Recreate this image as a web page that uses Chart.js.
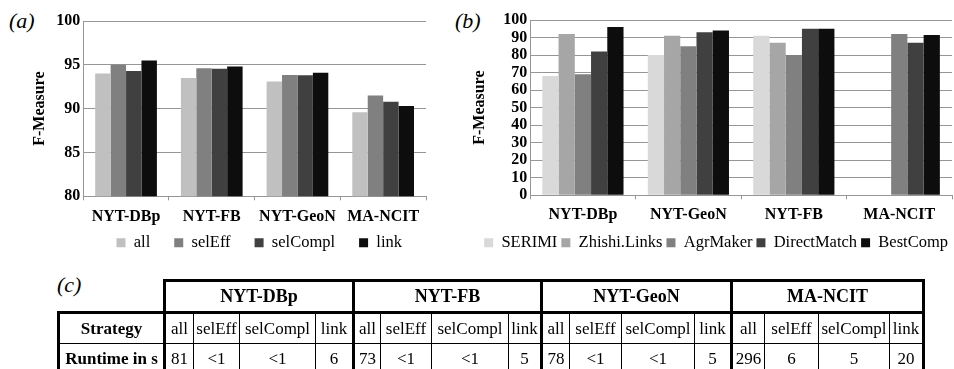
<!DOCTYPE html>
<html>
<head>
<meta charset="utf-8">
<script src="https://cdn.jsdelivr.net/npm/chart.js@4.4.1/dist/chart.umd.min.js"></script>
<style>
  body { margin: 0; width: 954px; height: 369px; overflow: hidden; background: #fff; position: relative; font-family: "Liberation Serif"; }
  .panel { position: absolute; font-family: "Liberation Serif"; font-style: italic; font-size: 22px; line-height: 22px; }
  #chartA { position: absolute; left: 0; top: 0; }
  #chartB { position: absolute; left: 450px; top: 0; }
  #runtimes { position: absolute; left: 57px; top: 279px; border-collapse: collapse; table-layout: fixed; font-family: "Liberation Serif"; font-size: 17px; }
  #runtimes td { border: 1px solid #000; text-align: center; height: 29px; padding: 0; white-space: nowrap; }
  #runtimes td.head { font-weight: bold; font-size: 18px; border: 3px solid #000; }
  #runtimes td.blank { border: none; }
  #runtimes td.lab { font-weight: bold; border-left: 3px solid #000; }
  #runtimes td.first { border-left: 3px solid #000; }
  #runtimes td.last { border-right: 3px solid #000; }
  #runtimes tr.strat td { border-top: 3px solid #000; }
</style>
</head>
<body>
<div class="panel" style="left:9px; top:10px;">(a)</div>
<div class="panel" style="left:455px; top:10px;">(b)</div>
<div class="panel" style="left:57px; top:274px;">(c)</div>
<canvas id="chartA" width="520" height="284"></canvas>
<canvas id="chartB" width="534" height="265"></canvas>
<table id="runtimes"></table>
<script>
// (a) F-Measure per strategy
const tasksA = ['NYT-DBp', 'NYT-FB', 'NYT-GeoN', 'MA-NCIT'];
const strategies = ['all', 'selEff', 'selCompl', 'link'];
const fAll = [94.0, 93.5, 93.1, 89.6];
const fSelEff = [95.0, 94.6, 93.85, 91.5];
const fSelCompl = [94.3, 94.55, 93.8, 90.8];
const fLink = [95.5, 94.8, 94.1, 90.3];

// (b) comparison with other tools
const tasksB = ['NYT-DBp', 'NYT-GeoN', 'NYT-FB', 'MA-NCIT'];
const tools = ['SERIMI', 'Zhishi.Links', 'AgrMaker', 'DirectMatch', 'BestComp'];
const serimi = [68, 80, 91, null];
const zhishi = [92, 91, 87, null];
const agrMaker = [69, 85, 80, 92];
const directMatch = [82, 93, 95, 87];
const bestComp = [96, 94, 95, 91.5];

// (c) runtimes in s, table order
const tableTasks = ['NYT-DBp', 'NYT-FB', 'NYT-GeoN', 'MA-NCIT'];
const runtimeDBp = ['81', '<1', '<1', '6'];
const runtimeFB = ['73', '<1', '<1', '5'];
const runtimeGeoN = ['78', '<1', '<1', '5'];
const runtimeMA = ['296', '6', '5', '20'];

const gridGrey = '#969696';
Chart.defaults.font.family = '"Liberation Serif"';
Chart.defaults.color = '#000';

// move the legend up after layout, so wide label spacing doesn't push it down
const liftLegend = {
  id: 'liftLegend',
  afterLayout(chart, args, opts) {
    const lg = chart.legend;
    if (lg && opts.lift) {
      lg.top -= opts.lift;
      lg.bottom -= opts.lift;
    }
  }
};

function barChart(id, labels, series, colors, opts) {
  return new Chart(document.getElementById(id), {
    type: 'bar',
    data: {
      labels: labels,
      datasets: series.map((s, i) => ({
        label: s.name,
        data: s.values,
        backgroundColor: colors[i],
        borderWidth: 0,
        categoryPercentage: opts.catPct,
        barPercentage: 1.0
      }))
    },
    plugins: [liftLegend],
    options: {
      responsive: false,
      animation: false,
      layout: { padding: opts.padding },
      plugins: {
        tooltip: { enabled: false },
        liftLegend: { lift: opts.lift },
        legend: {
          position: 'bottom',
          align: 'end',
          labels: { boxWidth: 9, boxHeight: 9, padding: opts.legendPad, color: '#000', font: { size: opts.legendSize } }
        }
      },
      scales: {
        x: {
          grid: { drawOnChartArea: false, drawTicks: true, tickLength: 4, color: gridGrey },
          border: { color: gridGrey },
          ticks: { font: { size: 16, weight: 'bold' }, padding: opts.xPad, maxRotation: 0, autoSkip: false }
        },
        y: {
          min: opts.min,
          max: 100,
          ticks: { stepSize: opts.step, font: { size: 16, weight: 'bold' }, padding: 3, autoSkip: false },
          grid: { color: gridGrey, drawTicks: false },
          border: { color: gridGrey },
          title: { display: true, text: 'F-Measure', font: { size: 16, weight: 'bold' }, padding: { top: 4, bottom: opts.titleGap } }
        }
      }
    }
  });
}

barChart('chartA', tasksA,
  [{ name: 'all', values: fAll }, { name: 'selEff', values: fSelEff },
   { name: 'selCompl', values: fSelCompl }, { name: 'link', values: fLink }],
  ['#c0c0c0', '#808080', '#404040', '#0d0d0d'],
  { catPct: 0.72, padding: { left: 26, right: 94, top: 21, bottom: 0 }, legendPad: 24, legendSize: 16.5,
    min: 80, step: 5, titleGap: 4, xPad: 7, lift: 23 });

barChart('chartB', tasksB,
  [{ name: tools[0], values: serimi }, { name: tools[1], values: zhishi }, { name: tools[2], values: agrMaker },
   { name: tools[3], values: directMatch }, { name: tools[4], values: bestComp }],
  ['#d9d9d9', '#a6a6a6', '#808080', '#404040', '#0d0d0d'],
  { catPct: 0.77, padding: { left: 16, right: 32, top: 20, bottom: 4 }, legendPad: 4, legendSize: 16.5,
    min: 0, step: 10, titleGap: 11, xPad: 6, lift: 0 });

// table (c)
const colWidths = [[29, 46, 76, 38], [27, 51, 77, 33], [28, 52, 73, 37], [33, 54, 71, 34]];
const runtimes = [runtimeDBp, runtimeFB, runtimeGeoN, runtimeMA];
const table = document.getElementById('runtimes');
let html = '<colgroup><col style="width:106px">';
colWidths.forEach(g => g.forEach(w => { html += '<col style="width:' + w + 'px">'; }));
html += '</colgroup><tr><td class="blank"></td>';
tableTasks.forEach(t => { html += '<td class="head" colspan="4">' + t + '</td>'; });
html += '</tr><tr class="strat"><td class="lab">Strategy</td>';
tableTasks.forEach((t, gi) => strategies.forEach((s, si) => {
  const cls = si === 0 ? 'first' : (gi === 3 && si === 3 ? 'last' : '');
  html += '<td class="' + cls + '">' + s + '</td>';
}));
html += '</tr><tr><td class="lab">Runtime in s</td>';
runtimes.forEach((r, gi) => r.forEach((v, si) => {
  const cls = si === 0 ? 'first' : (gi === 3 && si === 3 ? 'last' : '');
  html += '<td class="' + cls + '">' + v.replace('<', '&lt;') + '</td>';
}));
html += '</tr>';
table.innerHTML = html;
</script>
</body>
</html>
